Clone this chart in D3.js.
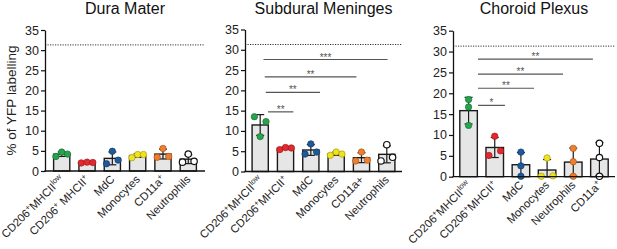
<!DOCTYPE html>
<html>
<head>
<meta charset="utf-8">
<script src="https://cdn.jsdelivr.net/npm/d3@7"></script>
<style>
  body { margin: 0; background: #fff; }
  text { font-family: "Liberation Sans", Arial, sans-serif; }
</style>
</head>
<body>
<svg id="chart" width="617" height="249"></svg>
<script>
// ---- data ----
const yTicks = [0, 5, 10, 15, 20, 25, 30, 35];
const dottedLevel = 31.3;
const yLabel = "% of YFP labelling";

const duraTitle = "Dura Mater";
const duraLabels = ["CD206^{+}MHCII^{low}", "CD206^{+} MHCII^{+}", "MdC", "Monocytes", "CD11a^{+}", "Neutrophils"];
const duraValues = [[3.6, 4.7, 4.2], [2.0, 2.2, 2.1], [4.9, 1.8, 2.7], [3.3, 4.1, 4.1], [5.6, 3.4, 3.6], [4.2, 2.2, 2.4]];
const duraSig = [];

const subduralTitle = "Subdural Meninges";
const subduralLabels = ["CD206^{+}MHCII^{low}", "CD206^{+}MHCII^{+}", "MdC", "Monocytes", "CD11a+", "Neutrophils"];
const subduralValues = [[13.5, 12.3, 8.6], [5.4, 5.9, 5.8], [6.8, 4.3, 4.8], [4.0, 4.8, 4.3], [4.8, 2.6, 2.8], [6.6, 2.6, 3.5]];
// comparison brackets: ends in category units (0 = first category), height in %
const subduralSig = [
  {from: 0.31, to: 1.31, y: 14.7, label: "**"},
  {from: 0.22, to: 2.36, y: 19.5, label: "**"},
  {from: 0.18, to: 3.80, y: 23.3, label: "**"},
  {from: 0.13, to: 5.03, y: 27.6, label: "***"}
];

const choroidTitle = "Choroid Plexus";
const choroidLabels = ["CD206^{+}MHCII^{low}", "CD206^{+}MHCII^{+}", "MdC", "Monocytes", "Neutrophils", "CD11a^{+}"];
const choroidValues = [[18.5, 16.7, 12.3], [9.7, 5.1, 6.2], [5.9, 2.6, 0.1], [4.5, 0.1, 0.2], [6.8, 3.6, 0.1], [8.0, 4.6, 0.1]];
const choroidSig = [
  {from: 0.36, to: 1.39, y: 17.1, label: "*"},
  {from: 0.36, to: 2.50, y: 21.2, label: "**"},
  {from: 0.36, to: 3.61, y: 24.6, label: "**"},
  {from: 0.36, to: 4.75, y: 28.2, label: "**"}
];

// ---- styling / layout ----
const dotColors = ["#27a34a", "#e3292d", "#1d5a99", "#f1e21f", "#ee7f2e", "#ffffff"];
const dotStroke = ["#17733a", "#9e1b1f", "#123c68", "#a89c12", "#a8561c", "#111111"];
const dotR = 3.2, dotSpacing = 5.8, capW = 8;
const catFont = 11.3;

const panels = [
  {title: duraTitle, labels: duraLabels, values: duraValues, sig: duraSig,
   x0: 45, x1: 205, yTop: 30, yZero: 171, padOuter: 0.34, padInner: 0.36, showYLabel: true},
  {title: subduralTitle, labels: subduralLabels, values: subduralValues, sig: subduralSig,
   x0: 245, x1: 402, yTop: 29.5, yZero: 171.5, padOuter: 0.28, padInner: 0.36},
  {title: choroidTitle, labels: choroidLabels, values: choroidValues, sig: choroidSig,
   x0: 453, x1: 615, yTop: 30.7, yZero: 176.7, padOuter: 0.26, padInner: 0.33}
];

const svg = d3.select("#chart");

// write a label with ^{...} superscripts as tspans
function richText(sel, str, size) {
  const parts = str.split(/(\^\{[^}]*\})/).filter(s => s.length);
  let up = false;
  parts.forEach(p => {
    if (p.startsWith("^{")) {
      sel.append("tspan").attr("font-size", size * 0.68).attr("dy", up ? 0 : -size * 0.38).text(p.slice(2, -1));
      up = true;
    } else {
      sel.append("tspan").attr("font-size", size).attr("dy", up ? size * 0.38 : 0).text(p);
      up = false;
    }
  });
}

// horizontal offsets for dots that would overlap (clusters keep array order)
function dotOffsets(vals, y) {
  const n = vals.length, offs = new Array(n).fill(0), seen = new Array(n).fill(false);
  for (let i = 0; i < n; i++) {
    if (seen[i]) continue;
    const group = [i]; seen[i] = true;
    for (let k = 0; k < group.length; k++) {
      for (let j = 0; j < n; j++) {
        if (!seen[j] && Math.abs(y(vals[group[k]]) - y(vals[j])) < dotR * 2) { seen[j] = true; group.push(j); }
      }
    }
    group.sort((a, b) => a - b);
    const pattern = group.length === 1 ? [0] : group.length === 2 ? [-1, 1] : group.map((_, g) => g - (group.length - 1) / 2);
    group.forEach((idx, g) => offs[idx] = pattern[g] * dotSpacing);
  }
  return offs;
}

panels.forEach(p => {
  const g = svg.append("g");
  const x = d3.scaleBand().domain(p.labels).range([p.x0, p.x1])
    .paddingInner(p.padInner).paddingOuter(p.padOuter);
  const y = d3.scaleLinear().domain([0, 35]).range([p.yZero, p.yTop]);
  const bw = x.bandwidth();

  // title
  g.append("text")
    .attr("x", (p.x0 + p.x1) / 2).attr("y", 14)
    .attr("text-anchor", "middle").attr("font-size", 16).attr("fill", "#111")
    .text(p.title);

  // dotted reference line
  g.append("line")
    .attr("x1", p.x0).attr("x2", p.x1)
    .attr("y1", y(dottedLevel)).attr("y2", y(dottedLevel))
    .attr("stroke", "#333").attr("stroke-width", 1).attr("stroke-dasharray", "1.2,1.3");

  // bars
  const stats = p.values.map((v, i) => ({label: p.labels[i], i, vals: v, mean: d3.mean(v), sd: d3.deviation(v)}));
  g.selectAll(".bar").data(stats).join("rect")
    .attr("x", d => x(d.label)).attr("width", bw)
    .attr("y", d => y(d.mean)).attr("height", d => y(0) - y(d.mean))
    .attr("fill", "#e6e6e6").attr("stroke", "#1a1a1a").attr("stroke-width", 1.4);

  // error bars (mean ± SD)
  stats.forEach(d => {
    const cx = x(d.label) + bw / 2;
    const lo = Math.max(0, d.mean - d.sd), hi = d.mean + d.sd;
    const eb = g.append("g").attr("stroke", "#1a1a1a").attr("stroke-width", 1.2);
    eb.append("line").attr("x1", cx).attr("x2", cx).attr("y1", y(lo)).attr("y2", y(hi));
    eb.append("line").attr("x1", cx - capW / 2).attr("x2", cx + capW / 2).attr("y1", y(hi)).attr("y2", y(hi));
    eb.append("line").attr("x1", cx - capW / 2).attr("x2", cx + capW / 2).attr("y1", y(lo)).attr("y2", y(lo));
  });

  // dots
  stats.forEach(d => {
    const cx = x(d.label) + bw / 2;
    const offs = dotOffsets(d.vals, y);
    g.selectAll(null).data(d.vals).join("circle")
      .attr("cx", (v, k) => cx + offs[k]).attr("cy", v => y(v)).attr("r", dotR)
      .attr("fill", dotColors[d.i]).attr("stroke", dotStroke[d.i])
      .attr("stroke-width", d.i === 5 ? 1.2 : 0.7);
  });

  // y axis
  const yAxisG = g.append("g").attr("transform", `translate(${p.x0},0)`)
    .call(d3.axisLeft(y).tickValues(yTicks).tickSize(4).tickSizeOuter(0).tickPadding(2));
  yAxisG.select(".domain").attr("stroke", "#111").attr("stroke-width", 1.3);
  yAxisG.selectAll(".tick line").attr("stroke", "#111").attr("stroke-width", 1.2);
  yAxisG.selectAll(".tick text").attr("font-size", 12.5).attr("fill", "#222")
    .attr("font-family", "'Liberation Sans', Arial, sans-serif");

  // x axis baseline
  g.append("line")
    .attr("x1", p.x0 - 0.6).attr("x2", p.x1)
    .attr("y1", y(0)).attr("y2", y(0))
    .attr("stroke", "#111").attr("stroke-width", 1.3);

  // rotated category labels
  p.labels.forEach(lab => {
    const cx = x(lab) + bw / 2 + 3;
    const t = g.append("text")
      .attr("transform", `translate(${cx},${y(0) + 9}) rotate(-45)`)
      .attr("text-anchor", "end").attr("fill", "#222");
    richText(t, lab, catFont);
  });

  // significance brackets
  const c0 = x(p.labels[0]) + bw / 2, step = x.step();
  p.sig.forEach(s => {
    const xa = c0 + s.from * step, xb = c0 + s.to * step;
    g.append("line").attr("x1", xa).attr("x2", xb).attr("y1", y(s.y)).attr("y2", y(s.y))
      .attr("stroke", "#555").attr("stroke-width", 1.2);
    g.append("text").attr("x", (xa + xb) / 2).attr("y", y(s.y) + 1)
      .attr("text-anchor", "middle").attr("font-size", 10).attr("fill", "#555").text(s.label);
  });

  if (p.showYLabel) {
    g.append("text")
      .attr("transform", `translate(16,${(p.yTop + p.yZero) / 2}) rotate(-90)`)
      .attr("text-anchor", "middle").attr("font-size", 13.5).attr("fill", "#222")
      .text(yLabel);
  }
});
</script>
</body>
</html>
